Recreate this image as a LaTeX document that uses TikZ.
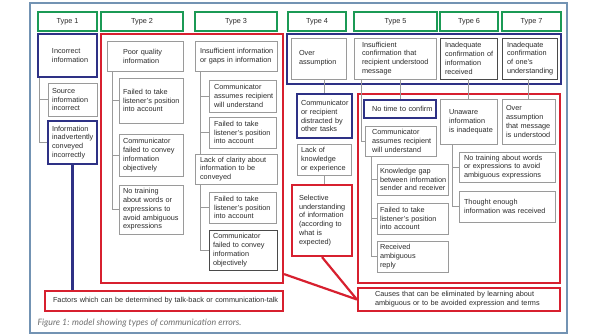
\documentclass[tikz,border=0pt]{standalone}
\usepackage{fontspec}
\setmainfont{Liberation Sans}
\newfontfamily\capfont{Lato}
\usepackage{tikz}
\definecolor{tgreen}{HTML}{1B9A55}
\definecolor{navy}{HTML}{2E3185}
\definecolor{rred}{HTML}{D7202F}
\definecolor{boxgrey}{HTML}{9A9A9A}
\definecolor{boxdark}{HTML}{4A4A4A}
\definecolor{framecol}{HTML}{7393B3}
\definecolor{txt}{HTML}{2A2A2A}
\definecolor{capgrey}{HTML}{6E6E6E}
\newcommand{\boxfont}{\fontsize{7.3}{8.8}\selectfont}
% box from (x1,y1) to (x2,y2): name, x1, y1, x2, y2, style, left pad, text
\newcommand{\cbox}[8]{%
  \pgfmathsetmacro{\bxw}{#4-#2}%
  \pgfmathsetmacro{\bxh}{#5-#3}%
  \pgfmathsetmacro{\bxt}{#4-#2-2}%
  \pgfmathsetmacro{\bxl}{#7-1}%
  \node[#6, minimum width=\bxw pt, minimum height=\bxh pt, text width=\bxt pt]
    (#1) at ({(#2+#4)/2},{(#3+#5)/2}) {\raggedright\leftskip=\bxl pt\relax #8\par};}
\tikzset{
  boxbase/.style={draw, inner xsep=1pt, inner ysep=1pt, font=\boxfont, text=txt},
  gbox/.style={boxbase, draw=boxgrey, line width=0.6pt},
  dbox/.style={boxbase, draw=boxdark, line width=0.9pt},
  bbox/.style={boxbase, draw=navy, line width=2.2pt},
  rbox/.style={boxbase, draw=rred, line width=2.2pt},
  typebox/.style={draw=tgreen, line width=2pt, font=\boxfont, text=txt,
    minimum height=19pt, minimum width=#1},
  tree/.style={draw=boxgrey, line width=0.6pt},
  bline/.style={draw=navy, line width=2.2pt},
  rline/.style={draw=rred, line width=2.2pt},
}

\begin{document}
\begin{tikzpicture}[x=1pt,y=-1pt]
\useasboundingbox (0,0) rectangle (598,336);
\draw[framecol, line width=1.6pt] (30,3) rectangle (567,333);
% type headers
\node[typebox=59pt] (t1) at (67.5,21.5) {Type 1};
\node[typebox=82pt] (t2) at (142,21.5) {Type 2};
\node[typebox=82pt] (t3) at (236,21.5) {Type 3};
\node[typebox=58pt] (t4) at (317,21.5) {Type 4};
\node[typebox=83pt] (t5) at (395.5,21.5) {Type 5};
\node[typebox=58pt] (t6) at (469,21.5) {Type 6};
\node[typebox=59pt] (t7) at (531.5,21.5) {Type 7};
% type 1
\cbox{inc}{38}{34}{97}{77}{bbox}{14}{Incorrect\\information}
\cbox{src}{48}{83}{97}{116}{gbox}{4}{Source\\information\\incorrect}
\cbox{inad}{48}{121}{97}{164}{bbox}{4}{Information\\inadvertently\\conveyed\\incorrectly}
\draw[tree] ([xshift=2pt]inc.south west) |- (src.west)
  ([xshift=2pt]inc.south west) |- (inad.west);
% types 2 and 3
\cbox{red23}{101}{34}{283}{283}{rbox}{0}{}
\cbox{pq}{107}{41}{183}{71}{gbox}{16}{Poor quality\\information}
\cbox{fl2}{119}{78}{183}{123}{gbox}{4}{Failed to take\\listener's position\\into account}
\cbox{cf2}{119}{134}{183}{176}{gbox}{4}{Communicator\\failed to convey\\information\\objectively}
\cbox{nt2}{119}{185}{183}{234}{gbox}{4}{No training\\about words or\\expressions to\\avoid ambiguous\\expressions}
\draw[tree] ([xshift=6pt]pq.south west) |- (fl2.west)
  ([xshift=6pt]pq.south west) |- (cf2.west)
  ([xshift=6pt]pq.south west) |- (nt2.west);
\cbox{ins3}{195}{41}{277}{71}{gbox}{5}{Insufficient information\\or gaps in information}
\cbox{ca3}{209}{80}{276}{112}{gbox}{5}{Communicator\\assumes recipient\\will understand}
\cbox{fl3}{209}{117}{276}{148}{gbox}{5}{Failed to take\\listener's position\\into account}
\cbox{lc3}{195}{154}{277}{184}{gbox}{5}{Lack of clarity about\\information to be\\conveyed}
\cbox{fl3b}{209}{192}{276}{223}{gbox}{5}{Failed to take\\listener's position\\into account}
\cbox{cf3}{209}{230}{277}{270}{dbox}{4}{Communicator\\failed to convey\\information\\objectively}
\draw[tree] ([xshift=6pt]ins3.south west) |- (ca3.west)
  ([xshift=6pt]ins3.south west) |- (fl3.west)
  ([xshift=6pt]ins3.south west) -- ([xshift=6pt]lc3.north west);
\draw[tree] ([xshift=6pt]lc3.south west) |- (fl3b.west)
  ([xshift=6pt]lc3.south west) |- (cf3.west);
\cbox{fac}{45}{291}{283}{311}{rbox}{8}{Factors which can be determined by talk-back or communication-talk}
\draw[bline] (inad.south) -- (inad.south |- fac.north);
% types 4 to 7
\cbox{top47}{287}{34}{561}{84}{bbox}{0}{}
\cbox{oa4}{291}{38}{346}{79}{gbox}{8}{Over\\assumption}
\cbox{ins5}{354}{38}{436}{79}{gbox}{8}{Insufficient\\confirmation that\\recipient understood\\message}
\cbox{ic6}{440}{38}{497}{79}{dbox}{5}{Inadequate\\confirmation of\\information\\received}
\cbox{ic7}{502}{38}{557}{79}{dbox}{5}{Inadequate\\confirmation\\of one's\\understanding}
\cbox{dis4}{297}{94}{352}{138}{bbox}{4}{Communicator\\or recipient\\distracted by\\other tasks}
\cbox{lk4}{297}{144}{351}{175}{gbox}{4}{Lack of\\knowledge\\or experience}
\cbox{sel4}{292}{185}{352}{256}{rbox}{7}{Selective\\understanding\\of information\\(according to\\what is\\expected)}
\draw[tree] (dis4.north |- oa4.south) -- (dis4.north);
\draw[tree] (lk4.south) -- (lk4.south |- sel4.north);
\cbox{red57}{358}{94}{560}{283}{rbox}{0}{}
\cbox{ntc}{364}{100}{436}{118}{bbox}{8}{No time to confirm}
\cbox{ca5}{365}{126}{436}{156}{gbox}{7}{Communicator\\assumes recipient\\will understand}
\cbox{kg5}{377}{164}{448}{195}{gbox}{3}{Knowledge gap\\between information\\sender and receiver}
\cbox{fl5}{377}{203}{448}{234}{gbox}{3}{Failed to take\\listener's position\\into account}
\cbox{ra5}{377}{241}{448}{272}{gbox}{3}{Received\\ambiguous\\reply}
\draw[tree] (ntc.north |- ins5.south) -- (ntc.north);
\draw[tree] ([xshift=8pt]ins5.south west) |- (ca5.west);
\draw[tree] ([xshift=7pt]ca5.south west) |- (kg5.west)
  ([xshift=7pt]ca5.south west) |- (fl5.west)
  ([xshift=7pt]ca5.south west) |- (ra5.west);
\cbox{un6}{440}{99}{497}{144}{gbox}{9}{Unaware\\information\\is inadequate}
\cbox{oa7}{502}{99}{555}{144}{gbox}{4}{Over\\assumption\\that message\\is understood}
\cbox{nt6}{459}{152}{555}{182}{gbox}{5}{No training about words\\or expressions to avoid\\ambiguous expressions}
\cbox{te6}{459}{191}{555}{222}{gbox}{5}{Thought enough\\information was received}
\draw[tree] (ic6.south) -- (un6.north);
\draw[tree] (oa7.north |- ic7.south) -- (oa7.north);
\draw[tree] ([xshift=13pt]un6.south west) |- (nt6.west)
  ([xshift=13pt]un6.south west) |- (te6.west);
\cbox{cau}{358}{288}{560}{311}{rbox}{17}{Causes that can be eliminated by learning about\\ambiguous or to be avoided expression and terms}
\draw[rline] ([yshift=10pt]red23.south east) -- (cau.west);
\draw[rline] (sel4.south) -- (cau.west);
% caption
\node[anchor=west, font=\capfont\itshape\fontsize{8.8}{10}\selectfont, text=capgrey]
  (cap) at (34,323) {Figure 1: model showing types of communication errors.};
\end{tikzpicture}
\end{document}
